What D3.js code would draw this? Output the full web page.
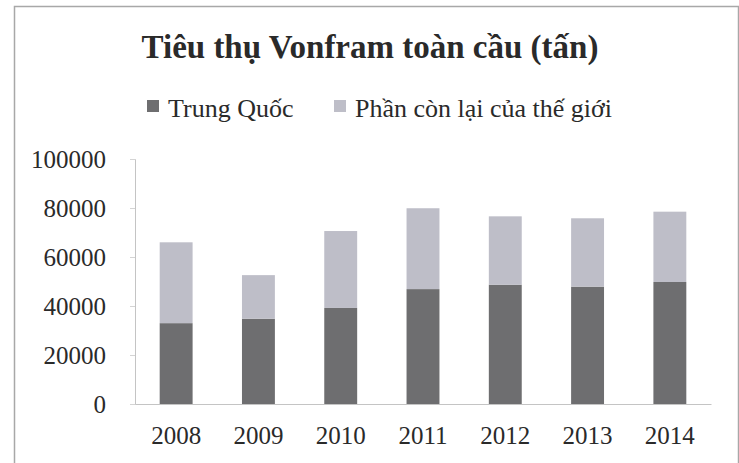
<!DOCTYPE html>
<html>
<head>
<meta charset="utf-8">
<script src="https://cdn.jsdelivr.net/npm/d3@7"></script>
<style>
  html, body { margin: 0; padding: 0; background: #fff; }
  svg { display: block; }
  text { font-family: "Liberation Serif", "Times New Roman", serif; fill: #2a2a2a; }
</style>
</head>
<body>
<svg id="chart" width="739" height="463"></svg>
<script>
// Tungsten consumption in tonnes, by year
const years = ["2008", "2009", "2010", "2011", "2012", "2013", "2014"];
const china = [33000, 34800, 39200, 46900, 48700, 47900, 49800];
const restOfWorld = [33000, 17800, 31400, 33000, 27900, 27900, 28700];
const yTicks = [0, 20000, 40000, 60000, 80000, 100000];
const seriesNames = ["Trung Quốc", "Phần còn lại của thế giới"];
const seriesColors = ["#6e6e70", "#bebec8"];
const title = "Tiêu thụ Vonfram toàn cầu (tấn)";

const svg = d3.select("#chart");
const W = 739, H = 463;
const plot = { left: 135, right: 711, top: 159, bottom: 404 };

// chart frame
svg.append("rect")
  .attr("x", 14.5).attr("y", 6.5)
  .attr("width", W - 15).attr("height", H)
  .attr("fill", "#fff").attr("stroke", "#a8a8a8").attr("stroke-width", 1.5);

// title
svg.append("text")
  .attr("x", 370).attr("y", 58)
  .attr("text-anchor", "middle")
  .attr("font-size", 33).attr("font-weight", "bold")
  .text(title);

// legend
const legend = svg.append("g");
const legendItems = [
  { x: 147, name: seriesNames[0], color: seriesColors[0] },
  { x: 334, name: seriesNames[1], color: seriesColors[1] }
];
legendItems.forEach(d => {
  legend.append("rect").attr("x", d.x).attr("y", 100).attr("width", 12).attr("height", 12)
    .attr("fill", d.color);
  legend.append("text")
    .attr("x", d.x + 21).attr("y", 117)
    .attr("font-size", 26)
    .text(d.name);
});

// scales
const x = d3.scaleBand().domain(years).range([plot.left, plot.right])
  .paddingInner(0.6).paddingOuter(0.3);
const y = d3.scaleLinear().domain([0, 100000]).range([plot.bottom, plot.top]);

// stacked bars: China at the bottom, rest of the world on top
const rows = years.map((yr, i) => ({ year: yr, china: china[i], rest: restOfWorld[i] }));
const stack = d3.stack().keys(["china", "rest"])(rows);

svg.append("g").selectAll("g").data(stack).join("g")
  .attr("fill", (d, i) => seriesColors[i])
  .selectAll("rect").data(d => d).join("rect")
  .attr("x", d => x(d.data.year))
  .attr("width", x.bandwidth())
  .attr("y", d => y(d[1]))
  .attr("height", d => y(d[0]) - y(d[1]));

// y axis
const yAxis = svg.append("g").attr("transform", `translate(${plot.left},0)`)
  .call(d3.axisLeft(y).tickValues(yTicks).tickSize(5).tickPadding(24).tickFormat(d3.format("d")));
yAxis.select(".domain").attr("stroke", "#c4c4c4");
yAxis.selectAll(".tick line").attr("stroke", "#d4d4d4");
yAxis.selectAll(".tick text")
  .attr("font-family", "Liberation Serif, Times New Roman, serif")
  .attr("font-size", 25).attr("fill", "#2a2a2a");

// x axis
const xAxis = svg.append("g").attr("transform", `translate(0,${plot.bottom})`)
  .call(d3.axisBottom(x).tickSize(0).tickPadding(22));
xAxis.select(".domain").attr("stroke", "#c4c4c4");
xAxis.selectAll(".tick text")
  .attr("font-family", "Liberation Serif, Times New Roman, serif")
  .attr("font-size", 25).attr("fill", "#2a2a2a");
</script>
</body>
</html>
